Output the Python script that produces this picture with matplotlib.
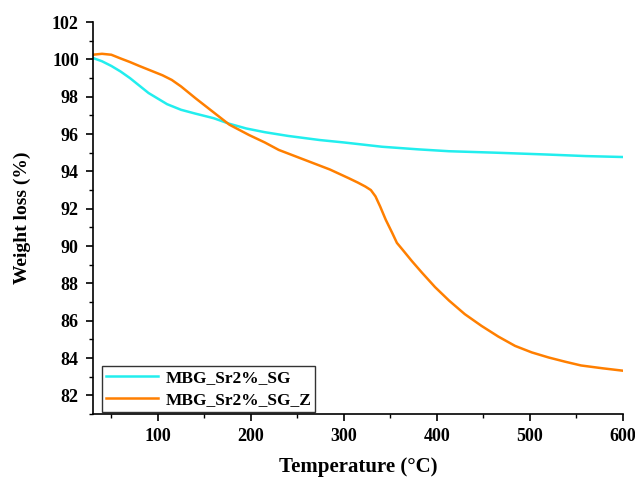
import numpy as np
import matplotlib
matplotlib.use("Agg")
import matplotlib.pyplot as plt
from matplotlib.ticker import MultipleLocator

plt.rcParams["font.family"] = ["Liberation Serif", "DejaVu Serif"]
plt.rcParams["font.weight"] = "bold"

# MBG_Sr2%_SG
temp_sg = [30, 40, 50, 60, 70, 80, 90, 100, 110, 125, 140, 160, 177, 195, 215, 240,
           274, 300, 341, 380, 413, 464, 520, 560, 600]
wt_sg = [100.08, 99.9, 99.65, 99.35, 99.0, 98.6, 98.2, 97.9, 97.6, 97.3, 97.1, 96.85,
         96.55, 96.3, 96.1, 95.9, 95.68, 95.55, 95.32, 95.18, 95.08, 95.0, 94.9, 94.82, 94.77]

# MBG_Sr2%_SG_Z
temp_z = [30, 40, 50, 60, 70, 80, 90, 105, 115, 125, 141, 159, 177, 198, 215, 230,
          263, 285, 305, 315, 323, 329, 334, 339, 345, 352, 357, 363, 373, 384, 398,
          413, 430, 448, 466, 484, 502, 520, 538, 555, 578, 600]
wt_z = [100.25, 100.3, 100.25, 100.05, 99.86, 99.65, 99.45, 99.15, 98.9, 98.55, 97.9,
        97.2, 96.5, 95.95, 95.55, 95.15, 94.52, 94.1, 93.64, 93.4, 93.19, 93.0, 92.66,
        92.12, 91.41, 90.7, 90.17, 89.81, 89.2, 88.57, 87.8, 87.08, 86.35, 85.72, 85.15,
        84.65, 84.3, 84.03, 83.8, 83.6, 83.45, 83.32]

fig = plt.figure(figsize=(6.35, 4.8), dpi=100)
ax = fig.add_axes([0.146, 0.1375, 0.835, 0.8165])

ax.plot(temp_sg, wt_sg, color="#22EEEE", lw=1.8, label="MBG_Sr2%_SG")
ax.plot(temp_z, wt_z, color="#FF7F00", lw=1.8, label="MBG_Sr2%_SG_Z")

ax.set_xlim(30, 600)
ax.set_ylim(81, 102)
ax.xaxis.set_major_locator(MultipleLocator(100))
ax.xaxis.set_minor_locator(MultipleLocator(50))
ax.yaxis.set_major_locator(MultipleLocator(2))
ax.yaxis.set_minor_locator(MultipleLocator(1))

for s in ["top", "right"]:
    ax.spines[s].set_visible(False)
for s in ["left", "bottom"]:
    ax.spines[s].set_linewidth(1.2)

ax.tick_params(which="major", direction="out", length=5, width=1.2, labelsize=13, pad=5)
ax.tick_params(which="minor", direction="out", length=3, width=1.0)
for lab in ax.get_xticklabels() + ax.get_yticklabels():
    lab.set_fontweight("bold")

ax.set_xlabel("Temperature (\u00b0C)", fontsize=15, fontweight="bold", labelpad=9)
ax.set_ylabel("Weight loss (%)", fontsize=14, fontweight="bold", labelpad=15)

leg = ax.legend(loc="lower left", bbox_to_anchor=(0.014, 0.0), fontsize=12.5,
                frameon=True, fancybox=False, handlelength=3.0, borderpad=0.25,
                labelspacing=0.3, handletextpad=0.4, borderaxespad=0.1)
leg.get_frame().set_edgecolor("black")
leg.get_frame().set_linewidth(1.0)
for t in leg.get_texts():
    t.set_fontweight("bold")

fig.savefig("out.png", dpi=100)
